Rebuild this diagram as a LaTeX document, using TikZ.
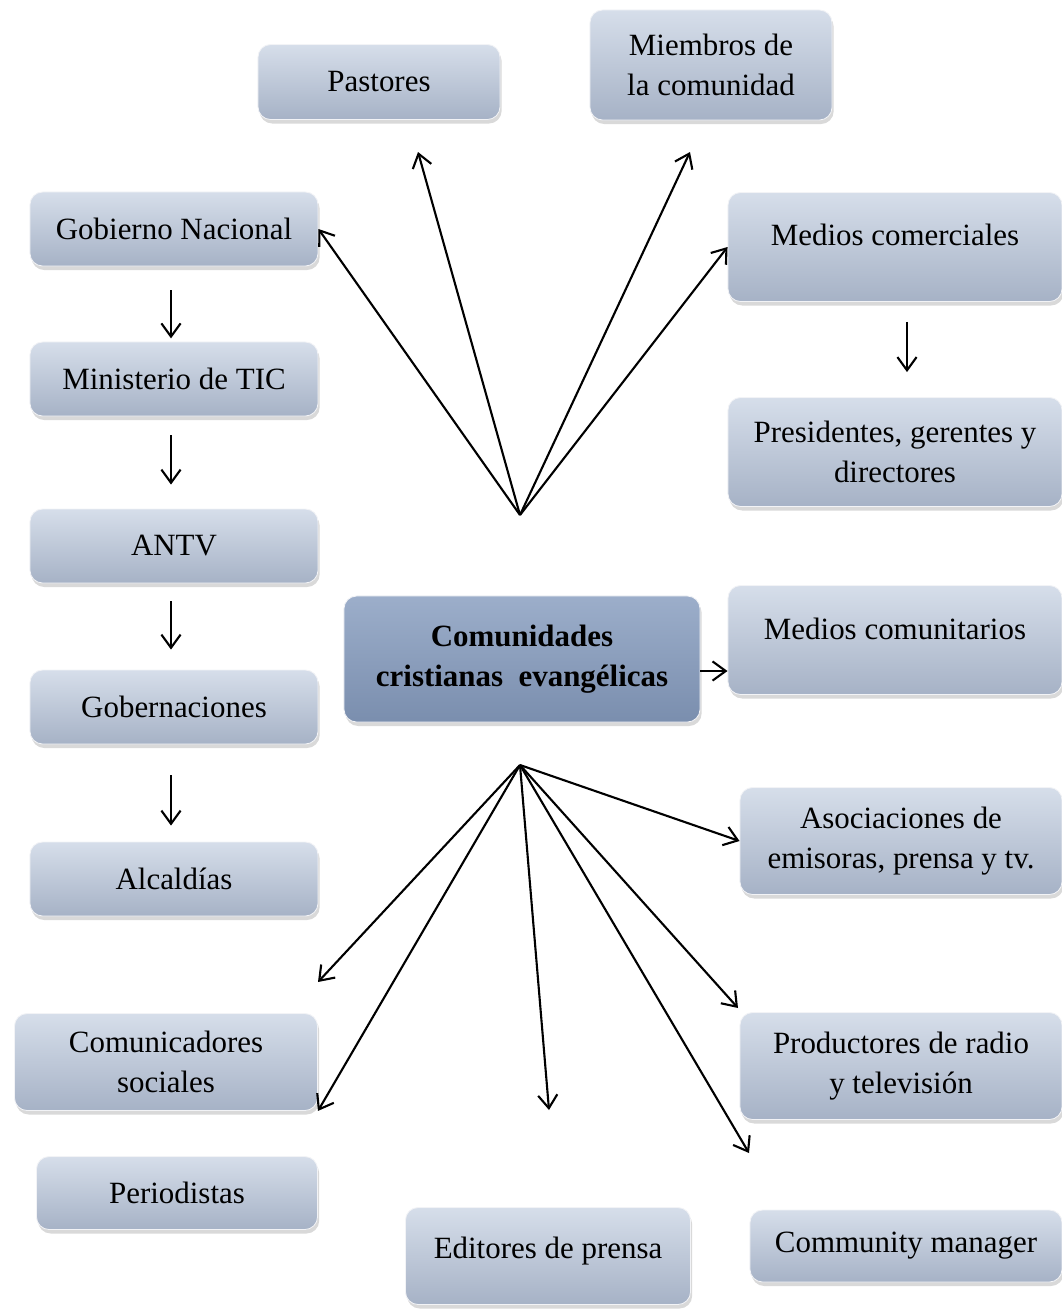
\documentclass[tikz,border=0pt]{standalone}
\usepackage{fontspec}
\setmainfont{Liberation Serif}
\usetikzlibrary{arrows.meta,shadows}

\definecolor{boxtop}{RGB}{214,222,234}
\definecolor{boxbot}{RGB}{166,178,198}
\definecolor{hubtop}{RGB}{156,174,202}
\definecolor{hubbot}{RGB}{122,142,174}

\tikzstyle{actor}= [rectangle, rounded corners=9pt, top color=boxtop, bottom color=boxbot,
  draw=white!85!boxbot, line width=0.6pt, align=center, inner sep=2pt,
  font=\fontsize{22}{28}\selectfont,
  drop shadow={shadow xshift=0.04cm, shadow yshift=-0.1cm, opacity=0.3}]
\tikzstyle{hub}= [actor, top color=hubtop, bottom color=hubbot, font=\bfseries\fontsize{22}{28}\selectfont]
\tikzstyle{link}= [->, line width=1.5pt]

\begin{document}
\begin{tikzpicture}[x=0.025cm, y=-0.025cm, >={Straight Barb[length=3.3mm,width=4.8mm]}]
    \useasboundingbox (0,0) rectangle (1062,1311);

    % centro
    \node[hub, minimum width=8.9cm, minimum height=3.15cm] (cce) at (522,659) {Comunidades\\cristianas\ \ evangélicas};

    % arriba
    \node[actor, minimum width=6.05cm, minimum height=1.875cm] (past) at (379,82) {Pastores};
    \node[actor, minimum width=6.05cm, minimum height=2.75cm] (miem) at (711,65) {Miembros de\\la comunidad};

    % columna izquierda
    \node[actor, minimum width=7.2cm, minimum height=1.85cm] (gob) at (174,229) {Gobierno Nacional};
    \node[actor, minimum width=7.2cm, minimum height=1.85cm] (mintic) at (174,379) {Ministerio de TIC};
    \node[actor, minimum width=7.2cm, minimum height=1.85cm] (antv) at (174,546) {ANTV};
    \node[actor, minimum width=7.2cm, minimum height=1.85cm] (gobs) at (174,707) {Gobernaciones};
    \node[actor, minimum width=7.2cm, minimum height=1.85cm] (alc) at (174,879) {Alcaldías};
    \node[actor, minimum width=7.575cm, minimum height=2.425cm] (comsoc) at (166,1062) {Comunicadores\\sociales};
    \node[actor, minimum width=7.025cm, minimum height=1.825cm] (peri) at (177,1193) {Periodistas};

    % columna derecha
    \node[actor, minimum width=8.35cm, minimum height=2.725cm, text depth=0.6cm] (medcom) at (895,247) {Medios comerciales};
    \node[actor, minimum width=8.35cm, minimum height=2.725cm] (pres) at (895,452) {Presidentes, gerentes y\\directores};
    \node[actor, minimum width=8.35cm, minimum height=2.725cm, text depth=0.55cm] (medcomu) at (895,640) {Medios comunitarios};
    \node[actor, minimum width=8.05cm, minimum height=2.675cm] (asoc) at (901,841) {Asociaciones de\\emisoras, prensa y tv.};
    \node[actor, minimum width=8.05cm, minimum height=2.675cm] (prod) at (901,1066) {Productores de radio\\y televisión};

    % abajo
    \node[actor, minimum width=7.125cm, minimum height=2.425cm, text depth=0.4cm] (edit) at (548,1256) {Editores de prensa};
    \node[actor, minimum width=7.8cm, minimum height=1.8cm] (cm) at (906,1246) {Community manager};

    % puntos de reparto
    \coordinate (up) at (520,515);
    \coordinate (down) at (520,765);
    \coordinate (tpast) at (418,152);
    \coordinate (tmiem) at (690,152);
    \coordinate (tleft) at (318,982);
    \coordinate (tedit) at (549,1110);
    \coordinate (tprod) at (738,1008);
    \coordinate (tcm) at (749,1153);

    \draw[link] (up) -- (gob.east);
    \draw[link] (up) -- (tpast);
    \draw[link] (up) -- (tmiem);
    \draw[link] (up) -- (medcom.west);

    \draw[link] (down) -- (tleft);
    \draw[link] (down) -- (comsoc.south east);
    \draw[link] (down) -- (tedit);
    \draw[link] (down) -- (tcm);
    \draw[link] (down) -- (tprod);
    \draw[link] (down) -- (asoc.west);

    \draw[link] ([yshift=-0.3cm]cce.east) -- ([yshift=-0.3cm]cce.east -| medcomu.west);

    \draw[link, shorten <=0.6cm, shorten >=0.08cm] ([xshift=-0.075cm]gob.south) -- ([xshift=-0.075cm]mintic.north);
    \draw[link, shorten <=0.475cm, shorten >=0.6cm] ([xshift=-0.075cm]mintic.south) -- ([xshift=-0.075cm]antv.north);
    \draw[link, shorten <=0.45cm, shorten >=0.5cm] ([xshift=-0.075cm]antv.south) -- ([xshift=-0.075cm]gobs.north);
    \draw[link, shorten <=0.775cm, shorten >=0.4cm] ([xshift=-0.075cm]gobs.south) -- ([xshift=-0.075cm]alc.north);
    \draw[link, shorten <=0.5cm, shorten >=0.625cm] ([xshift=0.3cm]medcom.south) -- ([xshift=0.3cm]pres.north);
  \end{tikzpicture}
\end{document}
